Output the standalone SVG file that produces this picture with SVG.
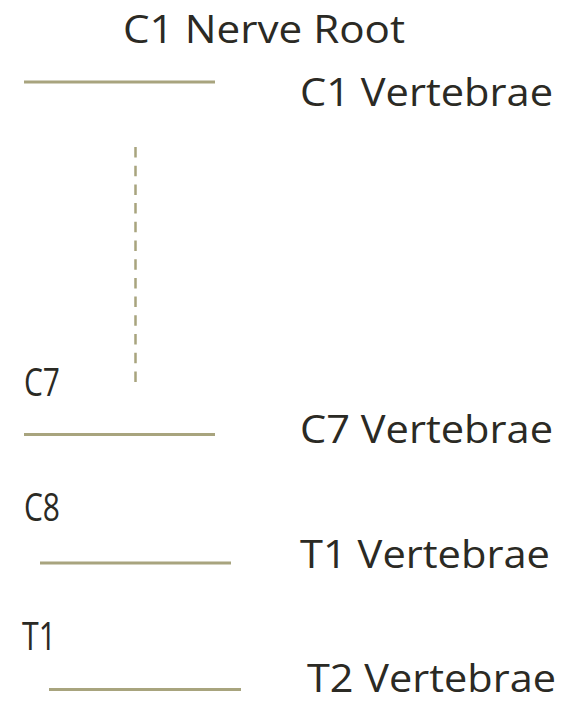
<svg xmlns="http://www.w3.org/2000/svg" width="562" height="703" viewBox="0 0 562 703">
<style>
text{font-family:"Open Sans","Noto Sans","Liberation Sans",sans-serif;font-size:38px;fill:#2B2A24}
.ln{stroke:#A8A47E;stroke-width:3;fill:none}
.dash{stroke:#A8A47E;stroke-width:2.5;stroke-dasharray:10.5 8.2;fill:none}
</style>
<rect width="562" height="703" fill="#FFFFFF"/>
<g id="connectors">
<line class="ln" x1="24" y1="82" x2="215" y2="82"/>
<line class="dash" x1="135.5" y1="147" x2="135.5" y2="382"/>
<line class="ln" x1="24" y1="434.5" x2="215" y2="434.5"/>
<line class="ln" x1="40" y1="563" x2="231" y2="563"/>
<line class="ln" x1="49" y1="689.5" x2="241" y2="689.5"/>
</g>
<g id="c1-nerve-root"><text x="123" y="43" textLength="282" lengthAdjust="spacingAndGlyphs">C1 Nerve Root</text></g>
<g id="c1-vertebrae"><text x="300" y="106" textLength="253" lengthAdjust="spacingAndGlyphs">C1 Vertebrae</text></g>
<g id="c7"><text x="24" y="396" textLength="36" lengthAdjust="spacingAndGlyphs">C7</text></g>
<g id="c7-vertebrae"><text x="300" y="443" textLength="253" lengthAdjust="spacingAndGlyphs">C7 Vertebrae</text></g>
<g id="c8"><text x="24" y="521" textLength="36" lengthAdjust="spacingAndGlyphs">C8</text></g>
<g id="t1-vertebrae"><text x="300" y="568" textLength="250" lengthAdjust="spacingAndGlyphs">T1 Vertebrae</text></g>
<g id="t1"><text x="22" y="650" textLength="34" lengthAdjust="spacingAndGlyphs">T1</text></g>
<g id="t2-vertebrae"><text x="307" y="692" textLength="249" lengthAdjust="spacingAndGlyphs">T2 Vertebrae</text></g>
</svg>
